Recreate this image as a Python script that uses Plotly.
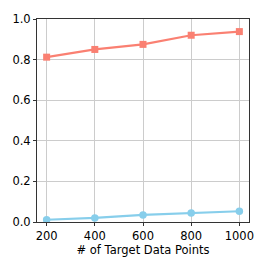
import plotly.graph_objects as go

x_vals = [200, 400, 600, 800, 1000]
red_vals = [0.812, 0.850, 0.875, 0.920, 0.938]
blue_vals = [0.011, 0.020, 0.035, 0.044, 0.053]
x_title = "# of Target Data Points"

fig = go.Figure()
fig.add_trace(go.Scatter(x=x_vals, y=red_vals, mode="lines+markers",
                         line=dict(color="#FA8072", width=2.2),
                         marker=dict(symbol="square", size=7, color="#FA8072")))
fig.add_trace(go.Scatter(x=x_vals, y=blue_vals, mode="lines+markers",
                         line=dict(color="#87CEEB", width=2.2),
                         marker=dict(symbol="circle", size=7.5, color="#87CEEB")))

axis_common = dict(showline=True, linecolor="#333333", linewidth=1, mirror=True,
                   showgrid=True, gridcolor="#cccccc", gridwidth=1, zeroline=False,
                   ticks="outside", ticklen=3, tickcolor="#333333",
                   tickfont=dict(family="DejaVu Sans", size=11.5, color="black"))
fig.update_xaxes(range=[160, 1040], tickvals=x_vals, title=dict(text=x_title, standoff=3,
                 font=dict(family="DejaVu Sans", size=11.5, color="black")), **axis_common)
fig.update_yaxes(range=[0, 1.0], tickvals=[0, 0.2, 0.4, 0.6, 0.8, 1.0],
                 tickformat=".1f", **axis_common)

fig.update_layout(width=266, height=266, showlegend=False,
                  margin=dict(l=34, r=17, t=15, b=42),
                  plot_bgcolor="white", paper_bgcolor="white")
fig.write_html("out.html", config={"displayModeBar": False},
               post_script="document.body.style.margin='0';")
